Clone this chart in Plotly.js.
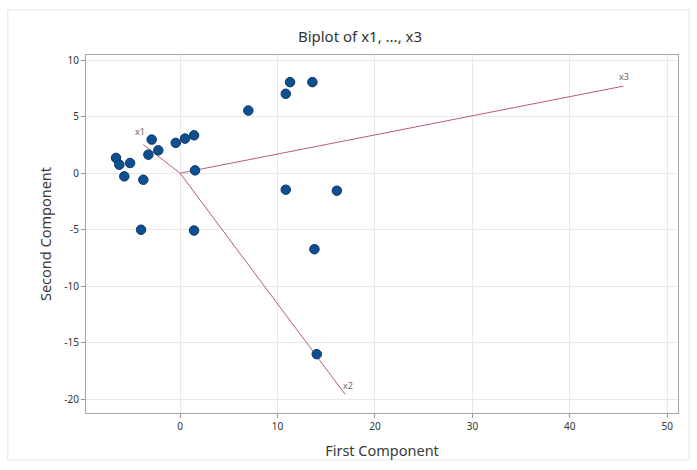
<!DOCTYPE html>
<html>
<head>
<meta charset="utf-8">
<script src="https://cdn.plot.ly/plotly-3.0.1.min.js"></script>
<style>
html,body{margin:0;padding:0;background:#ffffff;}
#chart{width:697px;height:470px;}
</style>
</head>
<body>
<div id="chart"></div>
<script>
// Scores (first and second principal component)
const scoreX = [-6.57, -6.23, -5.13, -5.72, -3.77, -2.91, -2.23, -3.25, -0.44, 0.51, 1.44, 1.54, 7.01, 10.85, 11.29, 13.58, 10.85, 16.09, -4.0, 1.44, 13.79, 14.03];
const scoreY = [1.35, 0.75, 0.9, -0.28, -0.58, 2.97, 2.02, 1.64, 2.68, 3.06, 3.35, 0.25, 5.54, 7.02, 8.05, 8.05, -1.46, -1.55, -5.0, -5.07, -6.72, -16.0];

// Loading vectors (end points)
const vecNames = ["x1", "x2", "x3"];
const vecX = [-3.77, 16.94, 45.5];
const vecY = [2.53, -19.55, 7.7];
const labelShiftX = [-3, 3, 1];
const labelShiftY = [13, 9, 10];

// Tick labels
const xTickVals = [0, 10, 20, 30, 40, 50];
const xTickText = ["0", "10", "20", "30", "40", "50"];
const yTickVals = [10, 5, 0, -5, -10, -15, -20];
const yTickText = ["10", "5", "0", "-5", "-10", "-15", "-20"];

const vecColor = "#bb5c70";
const traces = [];
vecNames.forEach((n, i) => {
  traces.push({
    x: [0, vecX[i]], y: [0, vecY[i]],
    mode: "lines", type: "scatter",
    line: {color: vecColor, width: 1},
    hoverinfo: "skip", showlegend: false
  });
});
traces.push({
  x: scoreX, y: scoreY, mode: "markers", type: "scatter",
  marker: {color: "#0d4f91", size: 9.5, line: {color: "#0a3766", width: 1}},
  showlegend: false
});

const annotations = vecNames.map((n, i) => ({
  x: vecX[i], y: vecY[i], xref: "x", yref: "y",
  text: n, showarrow: false,
  xshift: labelShiftX[i], yshift: labelShiftY[i],
  font: {family: "Noto Sans, sans-serif", size: 9, color: "#666666"}
}));

const tickFont = {family: "Noto Sans, sans-serif", size: 10, color: "#333333"};
const titleFont = {family: "Noto Sans, sans-serif", size: 14.5, color: "#3a3a3a"};

const layout = {
  width: 697, height: 470,
  margin: {l: 86, r: 19, t: 55, b: 57},
  paper_bgcolor: "#ffffff", plot_bgcolor: "#ffffff",
  title: {
    text: "Biplot of x1, ..., x3",
    font: {family: "Noto Sans, sans-serif", size: 15, color: "#333333"},
    x: 0.5165, xref: "container", xanchor: "center",
    y: 0.921, yref: "container", yanchor: "middle"
  },
  xaxis: {
    range: [-9.65, 51.1],
    tickvals: xTickVals, ticktext: xTickText,
    ticks: "outside", ticklen: 4, tickcolor: "#9a9a9a",
    showgrid: true, gridcolor: "#e8e8e8", gridwidth: 1,
    zeroline: false,
    showline: true, linecolor: "#a6a6a6", linewidth: 1, mirror: true,
    tickfont: tickFont,
    title: {text: "First Component", font: titleFont, standoff: 13}
  },
  yaxis: {
    range: [-21.2, 10.45],
    tickvals: yTickVals, ticktext: yTickText,
    ticks: "outside", ticklen: 4, tickcolor: "#9a9a9a",
    showgrid: true, gridcolor: "#e8e8e8", gridwidth: 1,
    zeroline: false,
    showline: true, linecolor: "#a6a6a6", linewidth: 1, mirror: true,
    tickfont: tickFont,
    title: {text: "Second Component", font: titleFont, standoff: 9}
  },
  annotations: annotations,
  shapes: [{
    type: "rect", xref: "paper", yref: "paper",
    x0: -0.132, x1: 1.019, y0: -0.131, y1: 1.126,
    line: {color: "#e4e4e4", width: 1}, fillcolor: "rgba(0,0,0,0)", layer: "below"
  }]
};

Plotly.newPlot("chart", traces, layout, {displayModeBar: false, staticPlot: true});
</script>
</body>
</html>
